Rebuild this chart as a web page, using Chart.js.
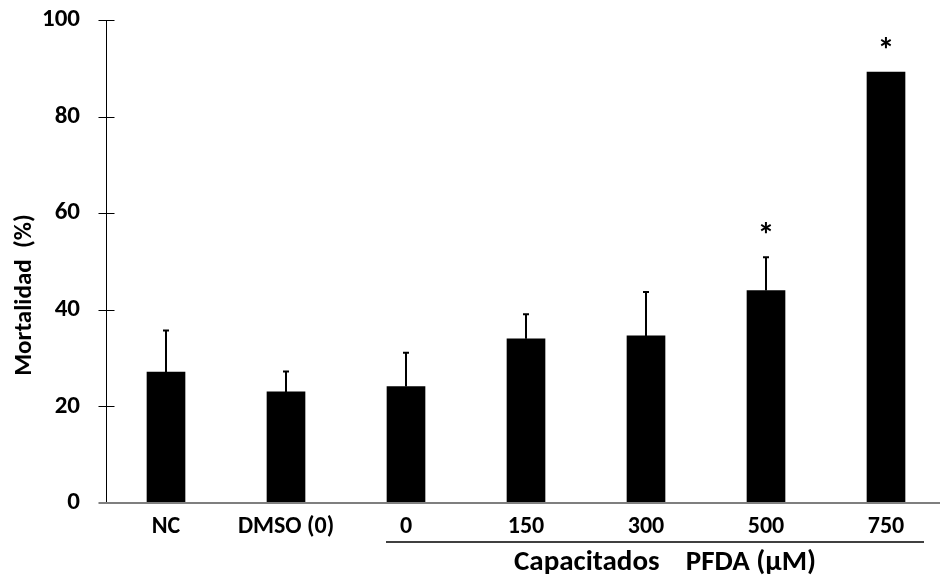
<!DOCTYPE html>
<html>
<head>
<meta charset="utf-8">
<script src="https://cdn.jsdelivr.net/npm/chart.js@4.4.0/dist/chart.umd.min.js"></script>
<style>
  html, body { margin: 0; padding: 0; background: #fff; }
  #wrap { width: 940px; height: 577px; position: relative; }
</style>
</head>
<body>
<div id="wrap"><canvas id="bar-chartcanvas"></canvas></div>
<script>
// mortalidad (%) por grupo
var categories = ["NC", "DMSO (0)", "0", "150", "300", "500", "750"];
var mortality  = [27.1, 23.0, 24.1, 34.0, 34.6, 44.0, 89.2];
var errors     = [8.6, 4.2, 7.0, 5.1, 9.1, 6.9, 0];
var significant = [false, false, false, false, false, true, true];
var yTicks = [0, 20, 40, 60, 80, 100];
var yTitle = "Mortalidad  (%)";
var groupTitle = "Capacitados    PFDA (\u00b5M)";
var groupFrom = 2, groupTo = 6;   // categorias bajo la linea

var FONT = "Carlito, 'Liberation Sans', Arial, sans-serif";

// barras de error, asteriscos, ejes y linea del grupo
var extras = {
  id: 'extras',
  afterDatasetsDraw: function(chart) {
    var ctx = chart.ctx;
    var x = chart.scales.x, y = chart.scales.y;
    var area = chart.chartArea;
    ctx.save();

    // error bars (solo hacia arriba)
    ctx.strokeStyle = '#000';
    ctx.lineWidth = 2;
    for (var i = 0; i < mortality.length; i++) {
      if (!errors[i]) continue;
      var px = Math.round(x.getPixelForValue(i));
      var top = y.getPixelForValue(mortality[i] + errors[i]);
      var base = y.getPixelForValue(mortality[i]);
      ctx.beginPath();
      ctx.moveTo(px, base);
      ctx.lineTo(px, top);
      ctx.moveTo(px - 3, top);
      ctx.lineTo(px + 3, top);
      ctx.stroke();
    }

    // asteriscos
    ctx.fillStyle = '#000';
    ctx.font = "bold 34px " + FONT;
    ctx.textAlign = 'center';
    ctx.textBaseline = 'middle';
    for (var j = 0; j < mortality.length; j++) {
      if (!significant[j]) continue;
      var ty = y.getPixelForValue(mortality[j] + errors[j]) - 27;
      ctx.fillText("*", x.getPixelForValue(j), ty + 7);
    }

    // eje y con marcas cruzadas
    ctx.strokeStyle = '#000';
    ctx.lineWidth = 1;
    var ax = area.left + 0.5;
    ctx.beginPath();
    ctx.moveTo(ax, y.getPixelForValue(100));
    ctx.lineTo(ax, y.getPixelForValue(0));
    yTicks.forEach(function(t) {
      if (t === 0) return;
      var ty2 = Math.round(y.getPixelForValue(t)) + 0.5;
      ctx.moveTo(ax - 8, ty2);
      ctx.lineTo(ax + 8, ty2);
    });
    ctx.stroke();

    // eje x gris
    ctx.strokeStyle = '#7f7f7f';
    ctx.lineWidth = 2;
    var y0 = Math.round(y.getPixelForValue(0));
    ctx.beginPath();
    ctx.moveTo(ax - 8, y0);
    ctx.lineTo(chart.width, y0);
    ctx.stroke();

    // linea del grupo
    ctx.strokeStyle = '#000';
    ctx.lineWidth = 1.5;
    var gl = x.getPixelForValue(groupFrom) - 20;
    var gr = x.getPixelForValue(groupTo) + 38;
    ctx.beginPath();
    ctx.moveTo(gl, 542);
    ctx.lineTo(gr, 542);
    ctx.stroke();

    ctx.font = "bold 29px " + FONT;
    ctx.textAlign = 'center';
    ctx.fillText(groupTitle, 665, 563);

    // titulo eje y
    ctx.translate(25, 295);
    ctx.rotate(-Math.PI / 2);
    ctx.font = "bold 25px " + FONT;
    ctx.fillText(yTitle, 0, 0);

    ctx.restore();
  }
};

var ctx = document.getElementById('bar-chartcanvas');
var chart = new Chart(ctx, {
  type: 'bar',
  data: {
    datasets: [{
      label: yTitle,
      data: mortality.map(function(v, i) { return {x: i, y: v}; }),
      backgroundColor: '#000',
      borderWidth: 0,
      barThickness: 38
    }]
  },
  options: {
    responsive: true,
    maintainAspectRatio: false,
    animation: false,
    layout: { padding: 0 },
    plugins: {
      legend: { display: false },
      tooltip: { enabled: false }
    },
    scales: {
      x: {
        type: 'linear',
        offset: false,
        min: -0.5,
        max: 6.45,
        grid: { display: false, drawTicks: false },
        border: { display: false },
        afterBuildTicks: function(s) {
          s.ticks = categories.map(function(c, i) { return {value: i}; });
        },
        afterFit: function(s) {
          s.height = 74;
          s.paddingLeft = 0;
          s.paddingRight = 0;
        },
        ticks: {
          autoSkip: false,
          maxRotation: 0,
          padding: 10,
          color: '#000',
          font: { family: FONT, size: 24, weight: 'bold' },
          callback: function(v) { return categories[v]; }
        }
      },
      y: {
        min: 0,
        max: 100,
        grid: { display: false, drawTicks: false },
        border: { display: false },
        afterFit: function(s) {
          s.width = 106;
          s.paddingTop = 20;
          s.paddingBottom = 0;
        },
        ticks: {
          stepSize: 20,
          padding: 26,
          color: '#000',
          font: { family: FONT, size: 25, weight: 'bold' }
        }
      }
    }
  },
  plugins: [extras]
});
</script>
</body>
</html>
